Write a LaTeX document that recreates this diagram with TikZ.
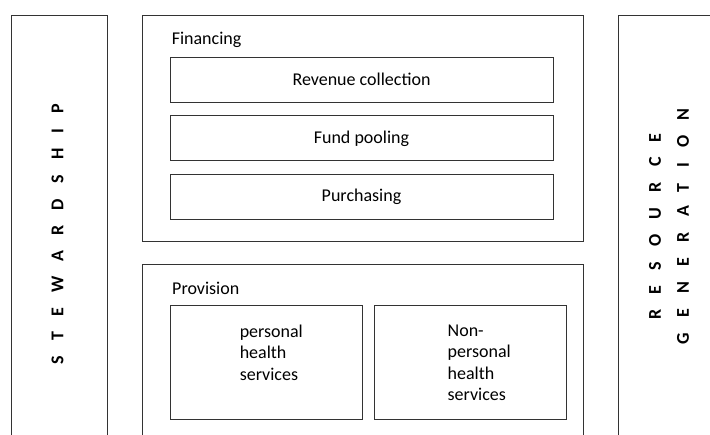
\documentclass[tikz,border=0pt]{standalone}
\usepackage{fontspec}
\setmainfont{Carlito}
\newfontfamily\capsfont[LetterSpace=85]{Carlito}
\usetikzlibrary{positioning}
\tikzset{
  frame/.style={draw=black!80, line width=0.9pt},
  subbox/.style={draw=black!80, line width=0.9pt, inner sep=0pt,
    minimum width=383pt, minimum height=45pt},
  servbox/.style={draw=black!80, line width=0.9pt, inner sep=0pt,
    minimum width=192pt, minimum height=114pt},
  title/.style={anchor=west, inner sep=0pt},
  servtext/.style={anchor=north west, inner sep=0pt, align=left,
    font=\fontsize{18pt}{21.5pt}\selectfont},
  sidelabel/.style={rotate=90, align=center, inner sep=0pt,
    font=\capsfont\bfseries\fontsize{18pt}{28pt}\selectfont}
}

\begin{document}
\begin{tikzpicture}[x=1pt, y=-1pt, font=\fontsize{18pt}{21.5pt}\selectfont]
	\useasboundingbox (0,0) rectangle (710,435);

	% side frames, open at the page edge
	\draw[frame] (11,437) -- (11,15) -- (107,15) -- (107,437);
	\draw[frame] (618,437) -- (618,15) -- (712,15);
	\node[sidelabel] (stew) at (57.5,234) {STEWARDSHIP};
	\node[sidelabel] (resgen) at (669,226.5) {RESOURCE\\GENERATION};

	% financing
	\node[frame, inner sep=0pt, minimum width=441pt, minimum height=226pt] (fin) at (362.5,128) {};
	\node[title] (fintitle) at ([xshift=30pt, yshift=-25pt]fin.north west) {Financing};
	\node[subbox] (revenue) at (361.5,79.5) {Revenue collection};
	\node[subbox, below=13pt of revenue] (pooling) {Fund pooling};
	\node[subbox, below=13pt of pooling] (purchasing) {Purchasing};

	% provision
	\draw[frame] (142,437) -- (142,264) -- (583,264) -- (583,437);
	\coordinate (prov) at (142,264);
	\node[title] (provtitle) at ([xshift=30pt, yshift=-24pt]prov) {Provision};
	\node[servbox] (personal) at (266,362) {};
	\node[servbox, right=12pt of personal] (nonpersonal) {};
	\node[servtext] (perstext) at ([xshift=70pt, yshift=-20pt]personal.north west)
		{personal\\health\\services};
	\node[servtext] (nonperstext) at ([xshift=73pt, yshift=-20pt]nonpersonal.north west)
		{Non-\\personal\\health\\services};
\end{tikzpicture}
\end{document}
